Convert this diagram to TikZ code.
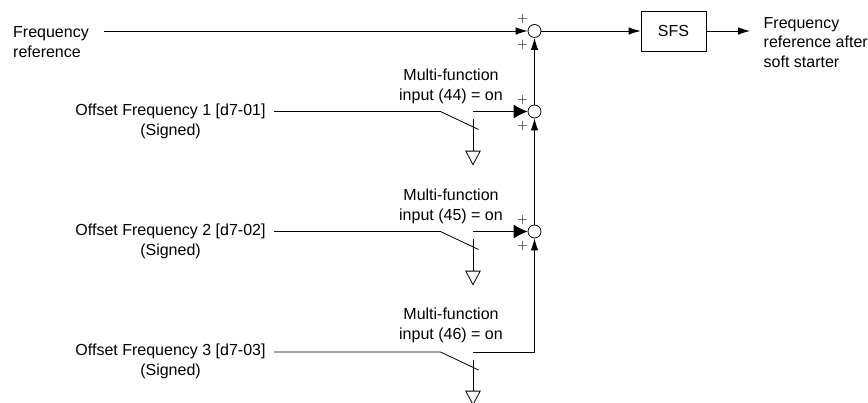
\documentclass[tikz,border=0pt]{standalone}
\usepackage{fontspec}
\setmainfont{Liberation Sans}
\usepackage{tikz}
\usetikzlibrary{arrows.meta, positioning, shapes.geometric}

\begin{document}
\begin{tikzpicture}[
  x=1pt, y=-1pt,
  lbl/.style={font=\fontsize{16}{19.8}\selectfont, inner sep=0pt, align=center},
  lbll/.style={lbl, align=left, anchor=west},
  sum/.style={circle, draw, line width=0.8pt, fill=white, minimum size=13pt, inner sep=0pt},
  blk/.style={rectangle, draw, line width=0.8pt, minimum width=65pt, minimum height=40pt, inner sep=0pt,
              font=\fontsize{16}{19}\selectfont},
  gnd/.style={isosceles triangle, shape border rotate=-90, isosceles triangle apex angle=56, draw, line width=0.8pt,
              minimum height=13.5pt, minimum width=14pt, inner sep=0pt, anchor=apex},
  plus/.style={font=\fontsize{15}{15}\selectfont, inner sep=0pt},
  wire/.style={line width=0.8pt},
  sig/.style={wire, -{Latex[length=12pt, width=7.5pt]}},
  sigbig/.style={wire, -{Latex[length=14pt, width=14pt]}},
]
  \useasboundingbox (0,0) rectangle (868,403);

  % summing points and block
  \node[sum] (sum0) at (534.5,31)  {};
  \node[sum] (sum1) at (534.5,111.5) {};
  \node[sum] (sum2) at (534.5,231.5) {};
  \node[blk] (sfs)  at (673.5,31)  {SFS};

  % signal names
  \node[lbll] (fref) at (13,42) {Frequency\\reference};
  \node[lbll] (fout) at (763.5,42.5) {Frequency\\reference after\\soft starter};
  \node[lbl] (off1) at (170.5,121.5) {Offset Frequency 1 [d7-01]\\(Signed)};
  \node[lbl] (off2) at (170.5,241.5) {Offset Frequency 2 [d7-02]\\(Signed)};
  \node[lbl] (off3) at (170.5,361.5) {Offset Frequency 3 [d7-03]\\(Signed)};
  \node[lbl] (mf1) at (451,86.5)  {Multi-function\\input (44) = on};
  \node[lbl] (mf2) at (451,206.5) {Multi-function\\input (45) = on};
  \node[lbl] (mf3) at (451,325.5) {Multi-function\\input (46) = on};

  % plus signs
  \node[plus] (p0a) at (522.7,19)  {$+$};
  \node[plus] (p0b) at (522.7,45)  {$+$};
  \node[plus] (p1a) at (522.7,99.5)  {$+$};
  \node[plus] (p1b) at (522.7,125.5) {$+$};
  \node[plus] (p2a) at (522.7,219.5) {$+$};
  \node[plus] (p2b) at (522.7,245.5) {$+$};

  % switch points
  \coordinate (in0) at (104,31);
  \coordinate (out) at (750,31);
  \coordinate (a1) at (274,111.5);
  \coordinate (b1) at (440.5,111.5);
  \coordinate (c1) at (478.5,129.5);
  \coordinate (d1) at (473,111.5);
  \coordinate (e1) at (473,119);
  \coordinate (a2) at (274,231.5);
  \coordinate (b2) at (440.5,231.5);
  \coordinate (c2) at (478.5,249.5);
  \coordinate (d2) at (473,231.5);
  \coordinate (e2) at (473,239);
  \coordinate (a3) at (274,352);
  \coordinate (b3) at (440.5,352);
  \coordinate (c3) at (478.5,370);
  \coordinate (d3) at (473,352);
  \coordinate (e3) at (473,360);

  \node[gnd] (g1) at (473,165.5) {};
  \node[gnd] (g2) at (473,285.5) {};
  \node[gnd] (g3) at (473,405.5) {};

  % connections
  \draw[sig]    (in0) -- (sum0);
  \draw[sig]    (sum0) -- (sfs);
  \draw[sig]    (sfs) -- (out);
  \draw[sig]    (sum1) -- (sum0);
  \draw[sig]    (sum2) -- (sum1);
  \draw[sig]    (d3) -| (sum2);

  \draw[wire]   (a1) -- (b1) -- (c1);
  \draw[sigbig] (d1) -- (sum1);
  \draw[wire]   (e1) -- (g1.north);
  \draw[wire]   (a2) -- (b2) -- (c2);
  \draw[sigbig] (d2) -- (sum2);
  \draw[wire]   (e2) -- (g2.north);
  \draw[wire]   (a3) -- (b3) -- (c3);
  \draw[wire]   (e3) -- (g3.north);
\end{tikzpicture}
\end{document}
